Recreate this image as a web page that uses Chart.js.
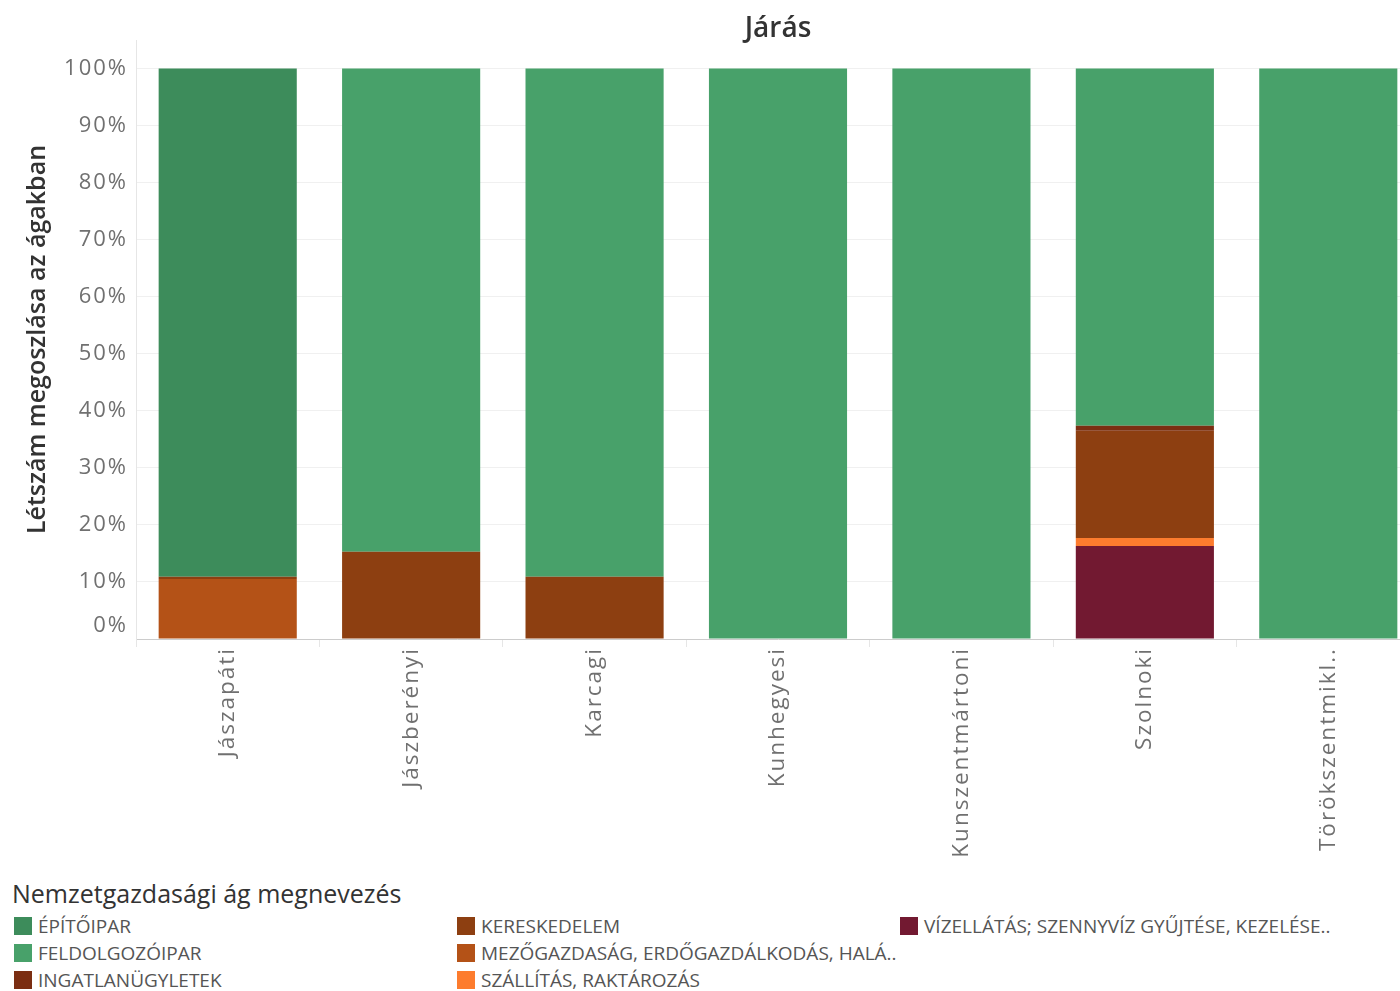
<!DOCTYPE html>
<html lang="hu">
<head>
<meta charset="utf-8">
<title>Járás</title>
<script src="https://cdn.jsdelivr.net/npm/chart.js@4"></script>
<style>
    body { margin: 0; overflow: hidden; background: #fff; font-family: 'Open Sans', sans-serif; }
    #wrap { position: relative; width: 1400px; height: 991px; overflow: hidden; }
    #chart { position: absolute; left: 0; top: 0; }
    #legend { position: absolute; left: 12px; top: 876px; width: 1390px; }
    #legend .title { font-size: 25px; color: #333; margin-bottom: 2px; line-height: 34px; }
    #legend .grid { display: grid; grid-template-columns: 443px 443px 500px; grid-auto-flow: column; grid-template-rows: repeat(3, 27px); }
    #legend .item { display: flex; align-items: center; font-size: 19px; color: #555; }
    #legend .sw { width: 18px; height: 18px; margin: 0 6px 0 2px; }
</style>
</head>
<body>
<div id="wrap">
    <canvas id="chart" width="1420" height="872"></canvas>
    <div id="legend"></div>
</div>
<script>
// járások (kategóriák)
const jarasok = ['Jászapáti', 'Jászberényi', 'Karcagi', 'Kunhegyesi', 'Kunszentmártoni', 'Szolnoki', 'Törökszentmikl..'];

// létszám megoszlása ágak szerint (%), alulról felfelé
const vizellatas     = [0, 0, 0, 0, 0, 16.3, 0];
const szallitas      = [0, 0, 0, 0, 0, 1.4, 0];
const mezogazdasag   = [10.5, 0, 0, 0, 0, 0, 0];
const kereskedelem   = [0.4, 15.3, 10.9, 0, 0, 18.8, 0];
const ingatlan       = [0, 0, 0, 0, 0, 0.9, 0];
const feldolgozoipar = [0, 84.7, 89.1, 100, 100, 62.6, 100];
const epitoipar      = [89.1, 0, 0, 0, 0, 0, 0];

const yTicks = [0, 10, 20, 30, 40, 50, 60, 70, 80, 90, 100];

const agak = [
    { label: 'VÍZELLÁTÁS; SZENNYVÍZ GYŰJTÉSE, KEZELÉSE..', data: vizellatas, color: '#721931' },
    { label: 'SZÁLLÍTÁS, RAKTÁROZÁS', data: szallitas, color: '#fd7c2e' },
    { label: 'MEZŐGAZDASÁG, ERDŐGAZDÁLKODÁS, HALÁ..', data: mezogazdasag, color: '#b45217' },
    { label: 'KERESKEDELEM', data: kereskedelem, color: '#8d3f11' },
    { label: 'INGATLANÜGYLETEK', data: ingatlan, color: '#7b2e12' },
    { label: 'FELDOLGOZÓIPAR', data: feldolgozoipar, color: '#48a16a' },
    { label: 'ÉPÍTŐIPAR', data: epitoipar, color: '#3d8c5b' }
];

// a tengelyfeliratok (z: 1) az oszlopok után rajzolódnak, ritkított betűközzel
const letterSpacing = {
    id: 'letterSpacing',
    afterDatasetsDraw(chart) { chart.ctx.letterSpacing = '2px'; },
    afterDraw(chart) { chart.ctx.letterSpacing = '0px'; }
};

new Chart(document.getElementById('chart'), {
    type: 'bar',
    data: {
        labels: jarasok,
        datasets: agak.map(a => ({
            label: a.label,
            data: a.data,
            backgroundColor: a.color,
            borderWidth: 0,
            barPercentage: 0.753,
            categoryPercentage: 1
        }))
    },
    plugins: [letterSpacing],
    options: {
        responsive: false,
        animation: false,
        layout: { padding: 0 },
        plugins: {
            legend: { display: false },
            tooltip: { enabled: false }
        },
        scales: {
            x: {
                stacked: true,
                afterFit: scale => { scale.height = 233; },
                grid: { offset: true, drawOnChartArea: false, drawTicks: true, tickLength: 8, color: '#e6e6e6' },
                border: { color: '#cccccc', dash: [2, 2] },
                ticks: { z: 1, maxRotation: 90, minRotation: 90, padding: 0, color: '#707070', font: { family: 'Open Sans', size: 22.5 } }
            },
            x2: {
                type: 'category',
                position: 'top',
                labels: jarasok,
                afterFit: scale => { scale.height = 40; },
                grid: { display: false },
                border: { display: false },
                ticks: { display: false },
                title: { display: true, text: 'Járás', color: '#333', font: { family: 'Open Sans', size: 28, weight: 600 }, padding: { top: 12, bottom: 0 } }
            },
            y: {
                stacked: true,
                min: 0,
                max: 105,
                afterFit: scale => { scale.width = 136; },
                afterBuildTicks: scale => { scale.ticks = yTicks.map(v => ({ value: v })); },
                grid: { color: '#f0f0f0', drawTicks: false },
                border: { color: '#e6e6e6' },
                ticks: {
                    z: 1,
                    padding: 8,
                    color: '#707070',
                    font: { family: 'Open Sans', size: 22 },
                    callback: v => v === 0 ? ['0%', ''] : v + '%'
                },
                title: { display: true, text: 'Létszám megoszlása az ágakban', color: '#333', font: { family: 'Open Sans', size: 25, weight: 600 }, padding: { top: 23, bottom: 0 } }
            }
        }
    }
});

// jelmagyarázat
const legendOrder = ['ÉPÍTŐIPAR', 'FELDOLGOZÓIPAR', 'INGATLANÜGYLETEK', 'KERESKEDELEM', 'MEZŐGAZDASÁG, ERDŐGAZDÁLKODÁS, HALÁ..', 'SZÁLLÍTÁS, RAKTÁROZÁS', 'VÍZELLÁTÁS; SZENNYVÍZ GYŰJTÉSE, KEZELÉSE..'];
const legendEl = document.getElementById('legend');
legendEl.innerHTML = '<div class="title">Nemzetgazdasági ág megnevezés</div><div class="grid">' +
    legendOrder.map(name => {
        const a = agak.find(x => x.label === name);
        return `<div class="item"><span class="sw" style="background:${a.color}"></span>${a.label}</div>`;
    }).join('') + '</div>';
</script>
</body>
</html>
